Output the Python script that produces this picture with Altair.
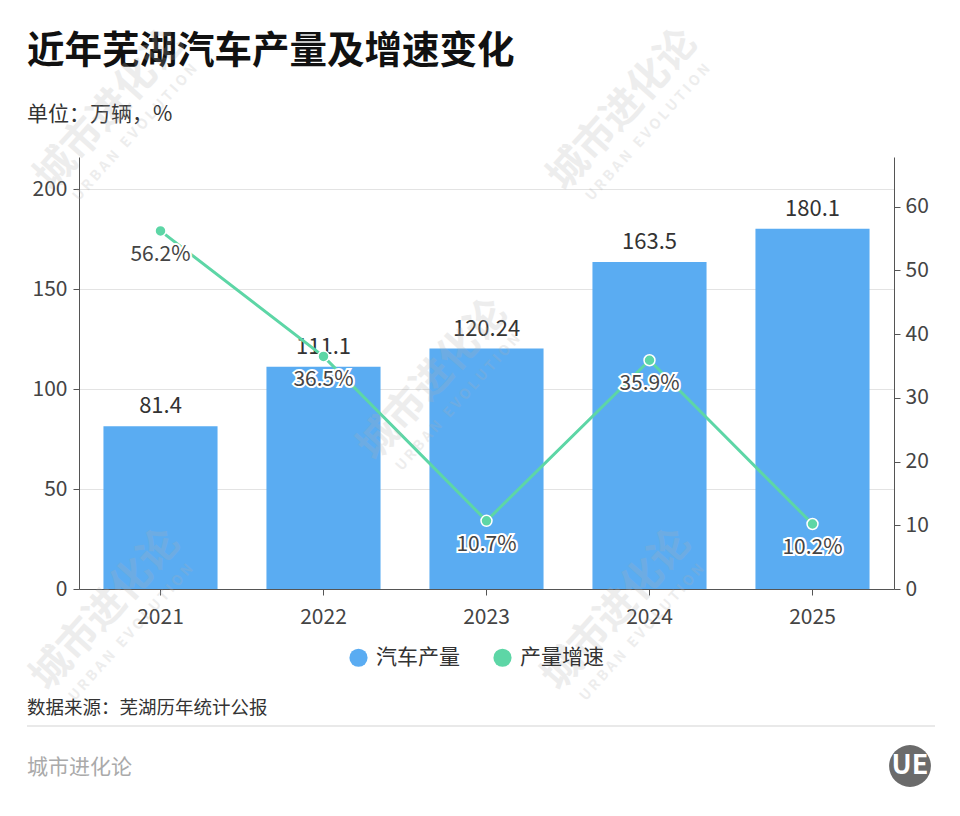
import altair as alt
import pandas as pd

years = ["2021", "2022", "2023", "2024", "2025"]
output = [81.4, 111.1, 120.24, 163.5, 180.1]
output_labels = ["81.4", "111.1", "120.24", "163.5", "180.1"]
growth = [56.2, 36.5, 10.7, 35.9, 10.2]
growth_labels = ["56.2%", "36.5%", "10.7%", "35.9%", "10.2%"]
series = ["汽车产量", "产量增速"]
left_ticks = [0, 50, 100, 150, 200]
right_ticks = [0, 10, 20, 30, 40, 50, 60]

# watermark centres (page pixels)
wm_x = [110, 623, 433, 106, 617]
wm_y = [110, 110, 380, 610, 610]

BLUE = "#5aacf2"
GREEN = "#5dd6a6"
FONT = "Noto Sans CJK SC"

bars_df = pd.DataFrame({"year": years, "value": output, "label": output_labels, "series": series[0]})
line_df = pd.DataFrame({"year": years, "value": growth, "label": growth_labels})

# plot origin on page is (79,157); offsets below are relative to it
OX, OY = 79, 157

x_enc = alt.X("year:N", title=None,
              scale=alt.Scale(paddingInner=0.3, paddingOuter=0.15),
              axis=alt.Axis(labelAngle=0, labelFontSize=21, labelColor="#444", labelFont=FONT,
                            domainColor="#555", tickColor="#555", tickSize=6, labelPadding=11,
                            grid=False))

y_left = alt.Y("value:Q", title=None,
               scale=alt.Scale(domain=[0, 216], nice=False),
               axis=alt.Axis(values=left_ticks, labelFontSize=21, labelColor="#444", labelFont=FONT,
                             domainColor="#555", tickColor="#555", tickSize=6, labelPadding=6,
                             grid=True, gridColor="#e3e3e3", orient="left"))

bars = alt.Chart(bars_df).mark_bar(color=BLUE).encode(
    x=x_enc,
    y=y_left,
    color=alt.Color("series:N", scale=alt.Scale(domain=series, range=[BLUE, GREEN]),
                    legend=alt.Legend(title=None, orient="none", direction="horizontal",
                                      legendX=269, legendY=490,
                                      symbolType="circle", symbolSize=330, symbolStrokeWidth=0,
                                      labelFontSize=21, labelColor="#333", labelFont=FONT,
                                      columnPadding=32, labelOffset=7)),
)

bar_text = alt.Chart(bars_df).mark_text(baseline="bottom", dy=-8, fontSize=22, color="#333", font=FONT).encode(
    x=alt.X("year:N"), y=alt.Y("value:Q"), text="label:N"
)

bar_layer = alt.layer(bars, bar_text)

y_right = alt.Y("value:Q", title=None,
                scale=alt.Scale(domain=[0, 67.8], nice=False),
                axis=alt.Axis(values=right_ticks, labelFontSize=21, labelColor="#444", labelFont=FONT,
                              domainColor="#555", tickColor="#555", tickSize=6, labelPadding=5,
                              grid=False, orient="right"))

line = alt.Chart(line_df).mark_line(color=GREEN, strokeWidth=3).encode(
    x=alt.X("year:N"), y=y_right
)
pts = alt.Chart(line_df).mark_point(filled=True, fill=GREEN, stroke="white", strokeWidth=1.5,
                                    size=120, opacity=1).encode(
    x=alt.X("year:N"), y=alt.Y("value:Q")
)
halo = alt.Chart(line_df).mark_text(baseline="middle", dy=24, fontSize=21, font=FONT,
                                    stroke="white", strokeWidth=4, fill="white").encode(
    x=alt.X("year:N"), y=alt.Y("value:Q"), text="label:N"
)
ptext = alt.Chart(line_df).mark_text(baseline="middle", dy=24, fontSize=21, font=FONT, color="#444").encode(
    x=alt.X("year:N"), y=alt.Y("value:Q"), text="label:N"
)
line_layer = alt.layer(line, pts, halo, ptext)


def note(text, x, y, size, color, weight="normal", align="left"):
    return alt.Chart(pd.DataFrame({"t": [text]})).mark_text(
        align=align, baseline="middle", fontSize=size, color=color, font=FONT, fontWeight=weight
    ).encode(x=alt.value(x - OX), y=alt.value(y - OY), text="t:N")


title = note("近年芜湖汽车产量及增速变化", 27, 52, 37.5, "#111", "bold")
unit = note("单位：万辆，%", 27, 115, 21, "#333")
source = note("数据来源：芜湖历年统计公报", 27, 708, 18.5, "#333")
brand = note("城市进化论", 27, 768, 21, "#aaaaaa")

sep = alt.Chart(pd.DataFrame({"a": [0]})).mark_rule(color="#e2e2e2", strokeWidth=1.5).encode(
    x=alt.value(27 - OX), x2=alt.value(935 - OX), y=alt.value(726 - OY)
)
logo = alt.Chart(pd.DataFrame({"a": [0]})).mark_circle(color="#6b6b6b", opacity=1, size=1750).encode(
    x=alt.value(910 - OX), y=alt.value(766 - OY)
)
logo_t = note("UE", 910, 766, 27, "white", "bold", "center")

wm_df = pd.DataFrame({"px": [v - OX for v in wm_x], "py": [v - OY for v in wm_y]})
wm_main = alt.Chart(wm_df).mark_text(
    text="城市进化论", angle=312, fontSize=40, fontWeight="bold", font=FONT,
    color="#b0b0b0", opacity=0.22, align="center", baseline="middle"
).encode(x=alt.X("px:Q", scale=None), y=alt.Y("py:Q", scale=None))
wm_sub = alt.Chart(wm_df).mark_text(
    text="U R B A N \u00a0 E V O L U T I O N", angle=312, fontSize=14, fontWeight="bold", font=FONT,
    color="#b0b0b0", opacity=0.22, align="center", baseline="middle", dy=34
).encode(x=alt.X("px:Q", scale=None), y=alt.Y("py:Q", scale=None))

chart = alt.layer(bar_layer, line_layer, title, unit, source, brand, sep, logo, logo_t,
                  wm_main, wm_sub).resolve_scale(
    y="independent"
).properties(
    width=815, height=432,
    padding={"left": OX - 8, "top": OY - 8, "right": 50, "bottom": 220},
    autosize=alt.AutoSizeParams(type="none"),
    background="white",
).configure_view(stroke=None)

chart.save("out.html", embed_options={"renderer": "svg", "actions": False})
